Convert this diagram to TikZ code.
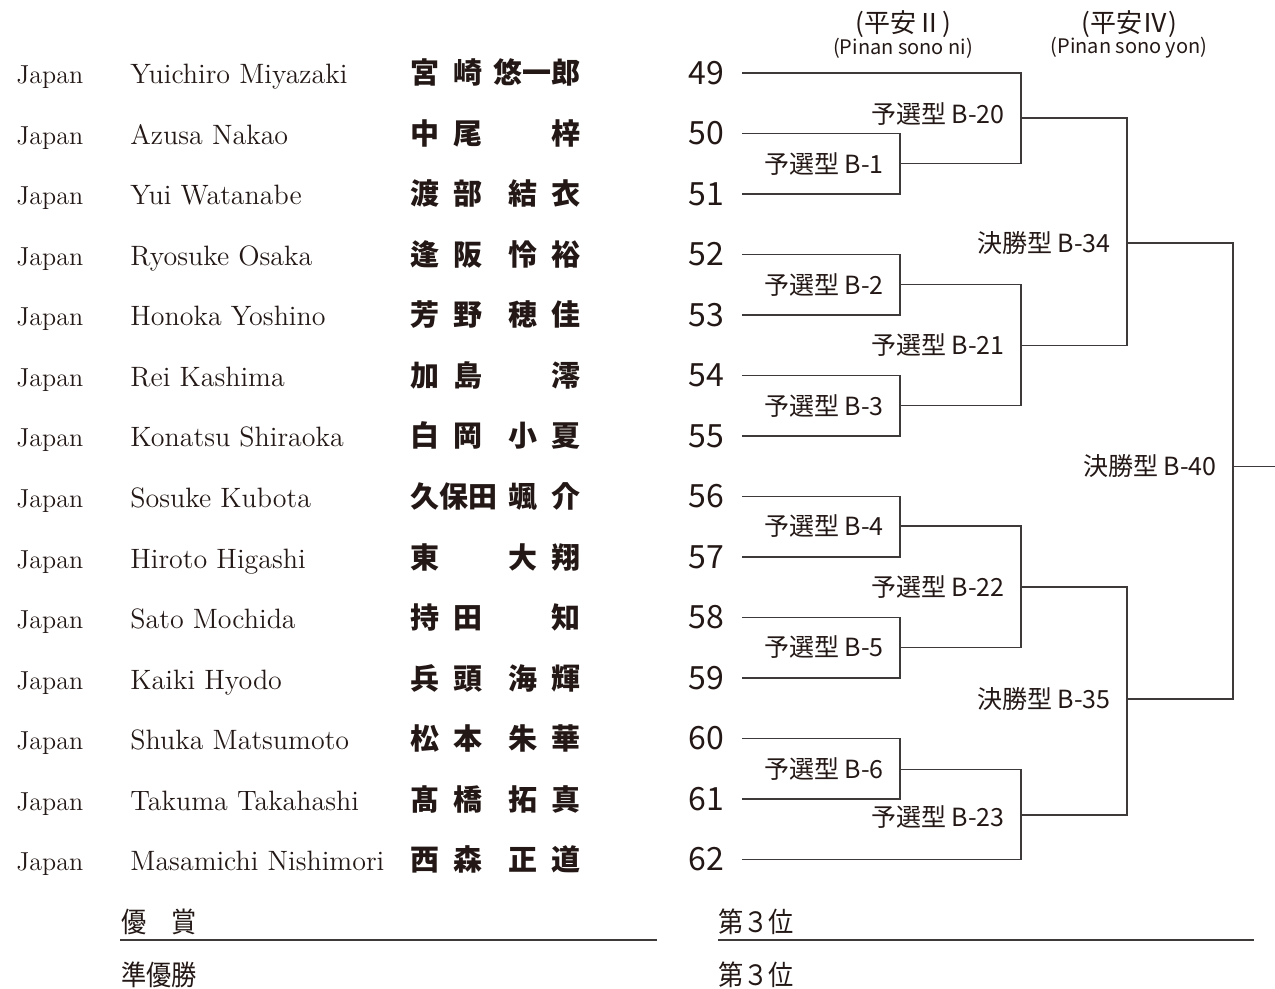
\documentclass[tikz,border=0pt]{standalone}
\usepackage{fontspec}
\newfontfamily\jp{Noto Sans CJK JP}
\usetikzlibrary{positioning}
\definecolor{ink}{HTML}{231815}
\definecolor{rulegray}{HTML}{3E3A39}
\newcommand{\jg}{\hspace{7pt}}
\tikzset{
  country/.style={anchor=base west,inner sep=0pt,font=\fontsize{13}{15}\selectfont},
  player/.style={anchor=base west,inner sep=0pt,font=\fontsize{14}{16}\selectfont},
  kanji/.style={inner sep=0pt,font=\jp\bfseries\fontsize{14.5}{16}\selectfont},
  seed/.style={anchor=east,inner sep=0pt,outer xsep=9pt,font=\jp\fontsize{16}{18}\selectfont},
  match/.style={inner sep=0pt,font=\jp\fontsize{12.5}{14}\selectfont},
  kata/.style={inner sep=0pt,font=\jp\fontsize{13}{15}\selectfont},
  kataen/.style={inner sep=0pt,font=\jp\fontsize{10}{12}\selectfont},
  place/.style={anchor=base west,inner sep=0pt,font=\jp\fontsize{14}{16}\selectfont},
  bline/.style={draw=rulegray,line width=0.75pt},
  uline/.style={draw=rulegray,line width=1pt},
}
\begin{document}
\begin{tikzpicture}[x=0.5pt,y=-0.5pt,text=ink]
\useasboundingbox (0,0) rectangle (1275,989);
% entrants
\foreach \n/\en/\fam/\giv [count=\i from 0] in {
  49/Yuichiro Miyazaki/宮\jg{}崎/悠一郎,
  50/Azusa Nakao/中\jg{}尾/梓,
  51/Yui Watanabe/渡\jg{}部/結\jg{}衣,
  52/Ryosuke Osaka/逢\jg{}阪/怜\jg{}裕,
  53/Honoka Yoshino/芳\jg{}野/穂\jg{}佳,
  54/Rei Kashima/加\jg{}島/澪,
  55/Konatsu Shiraoka/白\jg{}岡/小\jg{}夏,
  56/Sosuke Kubota/久保田/颯\jg{}介,
  57/Hiroto Higashi/東/大\jg{}翔,
  58/Sato Mochida/持\jg{}田/知,
  59/Kaiki Hyodo/兵\jg{}頭/海\jg{}輝,
  60/Shuka Matsumoto/松\jg{}本/朱\jg{}華,
  61/Takuma Takahashi/髙\jg{}橋/拓\jg{}真,
  62/Masamichi Nishimori/西\jg{}森/正\jg{}道}{
  \pgfmathsetmacro{\y}{73+60.5*\i}
  \node[country] (c\n) at (16,\y+11) {Japan};
  \node[player] (p\n) at (130,\y+11) {\en};
  \node[kanji,anchor=base west] (f\n) at (410,\y+11) {\fam};
  \node[kanji,anchor=base east] (g\n) at (581,\y+11) {\giv};
  \node[seed] (n\n) at (742,\y) {\n};
}
% headers
\node[kata] (h2) at (903,24) {(平安Ⅱ)};
\node[kataen] (h2en) at (903,48) {(Pinan sono ni)};
\node[kata] (h4) at (1129,24) {(平安Ⅳ)};
\node[kataen] (h4en) at (1129,48) {(Pinan sono yon)};
% matches
\coordinate (m1) at (900,163.75);
\coordinate (m2) at (900,284.75);
\coordinate (m3) at (900,405.75);
\coordinate (m4) at (900,526.25);
\coordinate (m5) at (900,647.25);
\coordinate (m6) at (900,769.5);
\coordinate (m20) at (1021,118);
\coordinate (m21) at (1021,345.5);
\coordinate (m22) at (1021,587);
\coordinate (m23) at (1021,815);
\coordinate (m34) at (1127,243);
\coordinate (m35) at (1127,699);
\coordinate (m40) at (1233,466.5);
\coordinate (fin) at (1275,466.5);
\draw[bline] (n50.east) -| (m1) |- (n51.east);
\draw[bline] (n52.east) -| (m2) |- (n53.east);
\draw[bline] (n54.east) -| (m3) |- (n55.east);
\draw[bline] (n56.east) -| (m4) |- (n57.east);
\draw[bline] (n58.east) -| (m5) |- (n59.east);
\draw[bline] (n60.east) -| (m6) |- (n61.east);
\draw[bline] (n49.east) -| (m20) |- (m1);
\draw[bline] (m2) -| (m21) |- (m3);
\draw[bline] (m4) -| (m22) |- (m5);
\draw[bline] (m6) -| (m23) |- (n62.east);
\draw[bline] (m20) -| (m34) |- (m21);
\draw[bline] (m22) -| (m35) |- (m23);
\draw[bline] (m34) -| (m40) |- (m35);
\draw[bline] (m40) -- (fin);
\node[match,left=8pt of m1] (l1) {予選型 B-1};
\node[match,left=8pt of m2] (l2) {予選型 B-2};
\node[match,left=8pt of m3] (l3) {予選型 B-3};
\node[match,left=8pt of m4] (l4) {予選型 B-4};
\node[match,left=8pt of m5] (l5) {予選型 B-5};
\node[match,left=8pt of m6] (l6) {予選型 B-6};
\node[match,left=8pt of m20,yshift=2pt] (l20) {予選型 B-20};
\node[match,left=8pt of m21] (l21) {予選型 B-21};
\node[match,left=8pt of m22] (l22) {予選型 B-22};
\node[match,left=8pt of m23,yshift=-1pt] (l23) {予選型 B-23};
\node[match,left=8pt of m34] (l34) {決勝型 B-34};
\node[match,left=8pt of m35] (l35) {決勝型 B-35};
\node[match,left=8pt of m40] (l40) {決勝型 B-40};
% places
\node[place] (win) at (121,932) {\scalebox{0.9}[1]{優\hspace{1em}賞}};
\node[place] (runner) at (121,985) {\scalebox{0.9}[1]{準優勝}};
\node[place] (thirda) at (718,932) {\scalebox{0.9}[1]{第３位}};
\node[place] (thirdb) at (718,985) {\scalebox{0.9}[1]{第３位}};
\draw[uline] (120,940) -- (657,940);
\draw[uline] (718,940) -- (1254,940);
\end{tikzpicture}
\end{document}
